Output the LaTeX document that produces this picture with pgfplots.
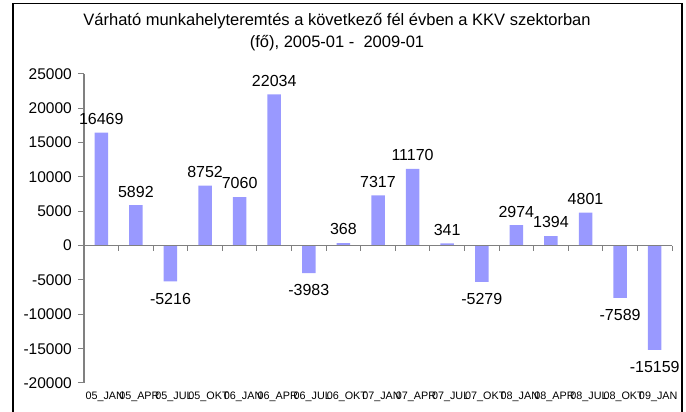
\documentclass[border=0pt]{standalone}
\usepackage{pgfplots}
\pgfplotsset{compat=1.18}
\usepackage{fontspec}
\setmainfont{Liberation Sans}
\definecolor{barblue}{HTML}{9999FF}
\definecolor{axgray}{HTML}{808080}
\begin{document}
\begin{tikzpicture}[x=1pt,y=1pt]
\useasboundingbox (0,0) rectangle (686,412);
\draw[line width=1.3pt] (13,-5) -- (13,408.5) -- (682,408.5) -- (682,-5);
\node[align=center, font=\fontsize{16.5}{22}\selectfont] at (337,379.5) {Várható munkahelyteremtés a következő fél évben a KKV szektorban\\(fő), 2005-01 -\ \ 2009-01};
\begin{axis}[
  at={(84pt,29pt)}, anchor=south west, scale only axis,
  width=588pt, height=309pt,
  xmin=-0.5, xmax=16.5, ymin=-20000, ymax=25000,
  axis y line*=left, axis x line*=bottom,
  x axis line style={draw=none},
  y axis line style={axgray, line width=1.5pt},
  ytick={-20000,-15000,...,25000},
  scaled y ticks=false,
  y tick style={axgray, line width=1pt},
  tick align=outside, major tick length=6pt,
  xtick=data,
  x tick style={draw=none},
  xticklabels={05\_JAN,05\_APR,05\_JUL,05\_OKT,06\_JAN,06\_APR,06\_JUL,06\_OKT,07\_JAN,07\_APR,07\_JUL,07\_OKT,08\_JAN,08\_APR,08\_JUL,08\_OKT,09\_JAN},
  xticklabel style={font=\fontsize{10.8}{10.8}\selectfont, inner sep=0pt, yshift=-3pt, xshift=3.5pt},
  yticklabel style={font=\fontsize{15.5}{15.5}\selectfont, inner sep=0pt, xshift=-6pt},
  /pgf/number format/assume math mode=true,
  /pgf/number format/1000 sep={},
  yticklabel={\pgfmathprintnumber[fixed,precision=0,1000 sep={},assume math mode=true]{\tick}},
  ybar, bar width=13.5pt,
  clip=false,
  nodes near coords={\pgfmathprintnumber[fixed,precision=0,1000 sep={},assume math mode=true]{\pgfplotspointmeta}},
  nodes near coords align=vertical,
  every node near coord/.append style={font=\fontsize{16}{16}\selectfont, text=black, inner sep=1pt, text height=21.5pt, text depth=7pt},
]
\addplot[fill=barblue, draw=none] coordinates {
(0,16469) (1,5892) (2,-5216) (3,8752) (4,7060) (5,22034) (6,-3983) (7,368) (8,7317) (9,11170) (10,341) (11,-5279) (12,2974) (13,1394) (14,4801) (15,-7589) (16,-15159)
};
\draw[axgray, line width=1.5pt] (axis cs:-0.5,0) -- (axis cs:16.5,0);
\pgfplotsinvokeforeach{0.5,1.5,...,16.5}{\draw[axgray, line width=1pt] (axis cs:#1,0) -- ([yshift=-5pt]axis cs:#1,0);}
\end{axis}
\end{tikzpicture}
\end{document}
